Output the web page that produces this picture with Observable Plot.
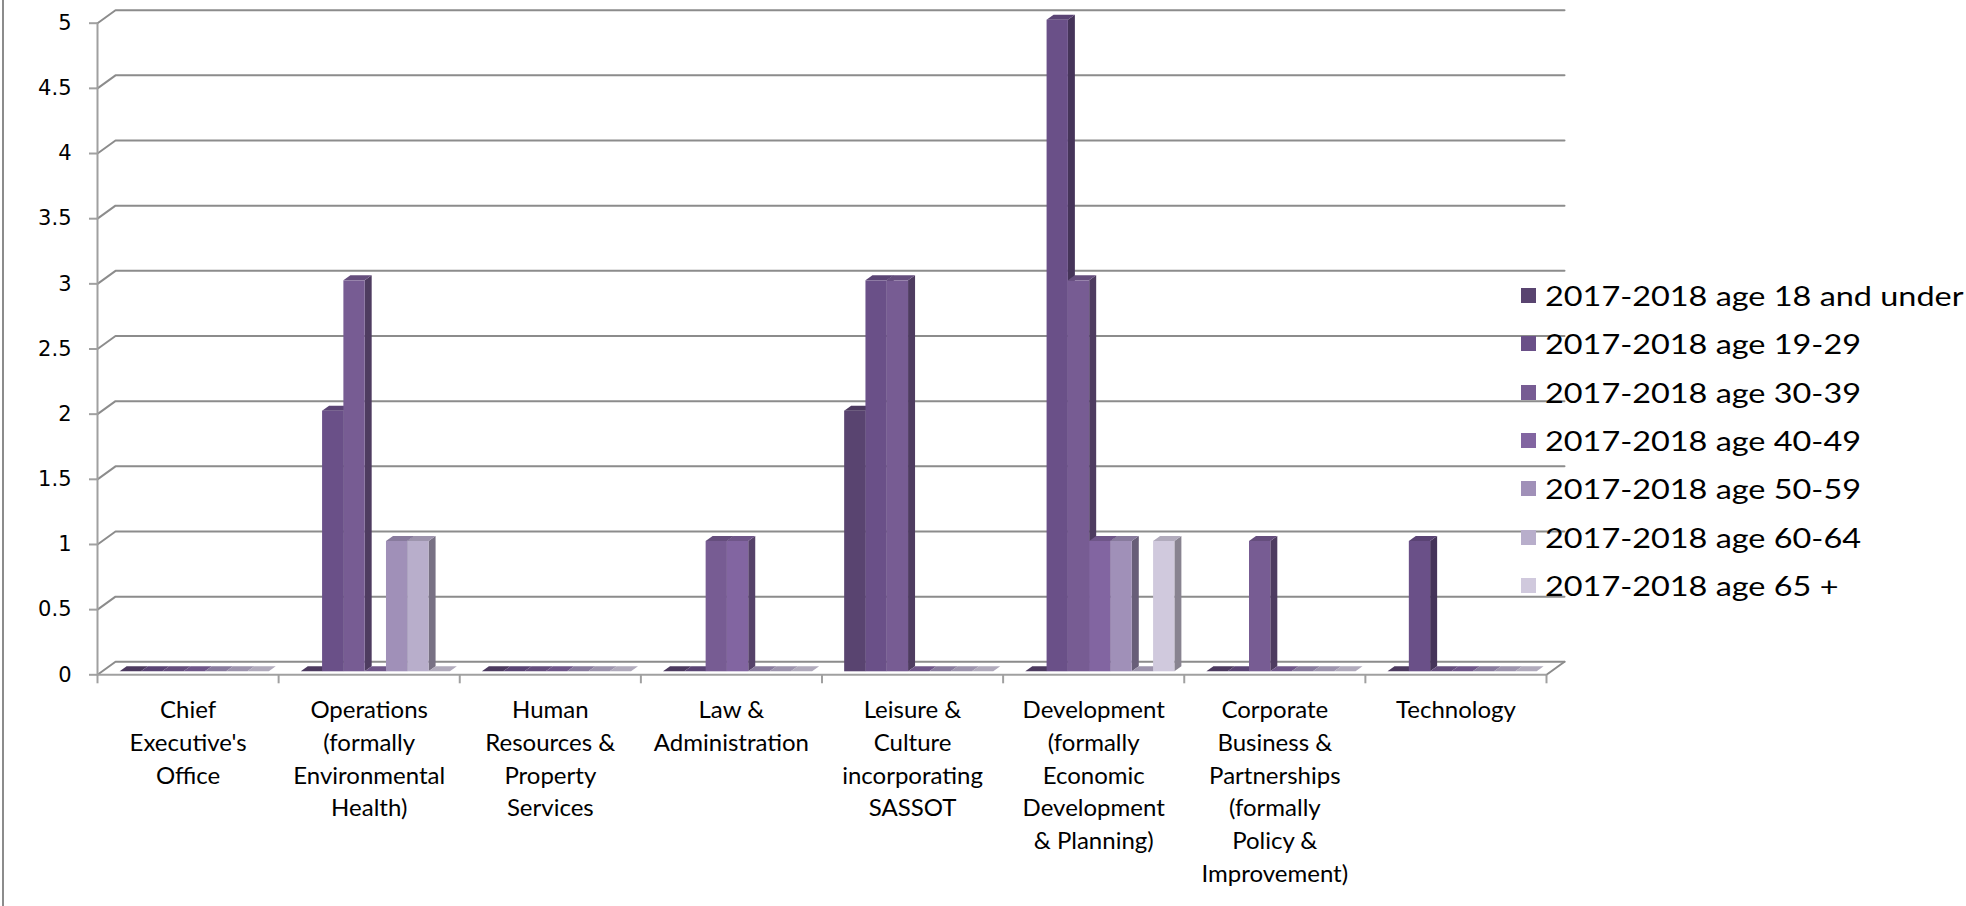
<!DOCTYPE html>
<html>
<head>
<meta charset="utf-8">
<script src="https://cdn.jsdelivr.net/npm/d3@7"></script>
<script src="https://cdn.jsdelivr.net/npm/@observablehq/plot@0.6"></script>
<style>
  html, body { margin: 0; padding: 0; background: #fff; }
  #wrap { position: relative; width: 1966px; height: 906px; overflow: hidden; font-family: Lato, sans-serif; }
  #border { position: absolute; left: 2px; top: 0; width: 2px; height: 906px; background: #8c8c8c; }
  #chart { position: absolute; left: 0; top: 0; }
  #legend { position: absolute; left: 1521px; top: 288px; }
  .row { position: absolute; left: 0; height: 15px; white-space: nowrap; }
  .sw { position: absolute; left: 0; top: 0; width: 15px; height: 15px; }
  .lab { position: absolute; left: 24px; top: 0; font-family: Lato, sans-serif; font-size: 27px; line-height: 15px; color: #000;
         transform: scaleX(1.2); transform-origin: 0 50%; }
</style>
</head>
<body>
<div id="wrap">
  <div id="border"></div>
  <div id="chart"></div>
  <div id="legend"></div>
</div>
<script>
// ---------- data ----------
const categories = [
  "Chief Executive's Office",
  "Operations (formally Environmental Health)",
  "Human Resources & Property Services",
  "Law & Administration",
  "Leisure & Culture incorporating SASSOT",
  "Development (formally Economic Development & Planning)",
  "Corporate Business & Partnerships (formally Policy & Improvement)",
  "Technology"
];
const categoryTickLabels = [
  "Chief\nExecutive's\nOffice",
  "Operations\n(formally\nEnvironmental\nHealth)",
  "Human\nResources &\nProperty\nServices",
  "Law &\nAdministration",
  "Leisure &\nCulture\nincorporating\nSASSOT",
  "Development\n(formally\nEconomic\nDevelopment\n& Planning)",
  "Corporate\nBusiness &\nPartnerships\n(formally\nPolicy &\nImprovement)",
  "Technology"
];
const seriesNames = [
  "2017-2018 age 18 and under",
  "2017-2018 age 19-29",
  "2017-2018 age 30-39",
  "2017-2018 age 40-49",
  "2017-2018 age 50-59",
  "2017-2018 age 60-64",
  "2017-2018 age 65 +"
];
const age18AndUnder = [0, 0, 0, 0, 2, 0, 0, 0];
const age19to29     = [0, 2, 0, 0, 3, 5, 0, 1];
const age30to39     = [0, 3, 0, 1, 3, 3, 1, 0];
const age40to49     = [0, 0, 0, 1, 0, 1, 0, 0];
const age50to59     = [0, 1, 0, 0, 0, 1, 0, 0];
const age60to64     = [0, 1, 0, 0, 0, 0, 0, 0];
const age65plus     = [0, 0, 0, 0, 0, 1, 0, 0];
const yTicks = [0, 0.5, 1, 1.5, 2, 2.5, 3, 3.5, 4, 4.5, 5];
const yTickLabels = ["0", "0.5", "1", "1.5", "2", "2.5", "3", "3.5", "4", "4.5", "5"];
const seriesColors = ["#594470", "#6a5088", "#775c93", "#8265a1", "#a090b8", "#b8aecb", "#d0c9dd"];

const seriesValues = [age18AndUnder, age19to29, age30to39, age40to49, age50to59, age60to64, age65plus];

// ---------- layout ----------
const width = 1966, height = 906;
const marginLeft = 97, marginRight = 420, marginTop = 22.7, marginBottom = 231.7;
const nCat = categories.length;
const pxX = nCat / (width - marginLeft - marginRight);   // data units per px (x)
const pxY = 5 / (height - marginTop - marginBottom);     // data units per px (y)
const wallDX = 18 * pxX, wallDY = 13 * pxY;
const barDX = 7 * pxX, barDY = 5 * pxY;
const barPad = 0.103, barW = 0.1176;

// build bars
const bars = [];
seriesValues.forEach((vals, j) => {
  vals.forEach((v, i) => {
    const x1 = i + barPad + j * barW;
    const c = d3.rgb(seriesColors[j]);
    bars.push({
      id: j * 100 + i, cat: categories[i], series: seriesNames[j], v, x1, x2: x1 + barW,
      front: c.formatHex(), side: c.darker(1.2).formatHex(), top: c.darker(0.45).formatHex()
    });
  });
});
const sidePts = bars.flatMap(b => [
  {id: b.id, x: b.x2, y1: 0, y2: b.v, fill: b.side},
  {id: b.id, x: b.x2 + barDX, y1: barDY, y2: b.v + barDY, fill: b.side}
]);
const topPts = bars.flatMap(b => [
  {id: b.id, y: b.v, x1: b.x1, x2: b.x2, fill: b.top},
  {id: b.id, y: b.v + barDY, x1: b.x1 + barDX, x2: b.x2 + barDX, fill: b.top}
]);
const gridPts = yTicks.flatMap(v => [
  {v, x: 0, y: v},
  {v, x: wallDX, y: v + wallDY},
  {v, x: nCat + wallDX, y: v + wallDY}
]);
const yLabelData = yTicks.map((v, i) => ({v, label: yTickLabels[i]}));

const gridColor = "#8c8c8c";
const barOffset = {dx: 4, dy: -3};

const plot = Plot.plot({
  width, height, marginLeft, marginRight, marginTop, marginBottom,
  style: {fontFamily: "Lato, sans-serif", background: "transparent", overflow: "visible"},
  x: {type: "linear", domain: [0, nCat], axis: null},
  y: {type: "linear", domain: [0, 5], axis: null},
  color: {type: "identity"},
  marks: [
    // back wall gridlines + left wall diagonals
    Plot.line(gridPts, {x: "x", y: "y", z: "v", stroke: gridColor, strokeWidth: 2}),
    // floor right diagonal and front edge
    Plot.line([{x: nCat, y: 0}, {x: nCat + wallDX, y: wallDY}], {x: "x", y: "y", stroke: gridColor, strokeWidth: 2}),
    Plot.ruleY([0], {x1: 0, x2: nCat, stroke: "#a0a0a0", strokeWidth: 2}),
    // front vertical axis line
    Plot.ruleX([0], {y1: 0, y2: 5, stroke: "#a0a0a0", strokeWidth: 2}),
    // y axis ticks
    Plot.axisY({ticks: yTicks, tickFormat: () => "", tickSize: 8, stroke: "#a0a0a0", strokeWidth: 2, label: null}),
    // y tick labels
    Plot.text(yLabelData, {x: 0, y: "v", text: "label", textAnchor: "end", dx: -26,
      fontSize: 21, fontFamily: "DejaVu Sans", fill: "#000"}),
    // x axis ticks
    Plot.axisX({ticks: d3.range(0, nCat + 1), tickFormat: () => "", tickSize: 9, stroke: "#a0a0a0", strokeWidth: 2, label: null}),
    // category labels
    Plot.text(categoryTickLabels, {x: (d, i) => i + 0.5, y: 0, text: d => d, lineAnchor: "top", dy: 20.5,
      lineHeight: 1.36, fontSize: 24, fill: "#000"}),
    // bars: side faces, top faces, front faces
    Plot.areaY(sidePts, {x: "x", y1: "y1", y2: "y2", z: "id", fill: "fill", curve: "linear", ...barOffset}),
    Plot.areaX(topPts, {y: "y", x1: "x1", x2: "x2", z: "id", fill: "fill", curve: "linear", ...barOffset}),
    Plot.rect(bars.filter(b => b.v > 0), {x1: "x1", x2: "x2", y1: 0, y2: "v", fill: "front", ...barOffset})
  ]
});
document.getElementById("chart").appendChild(plot);

// legend
const legend = document.getElementById("legend");
seriesNames.forEach((name, j) => {
  const row = document.createElement("div");
  row.className = "row";
  row.style.top = (j * 48.3) + "px";
  row.innerHTML = `<div class="sw" style="background:${seriesColors[j]}"></div><div class="lab"></div>`;
  row.querySelector(".lab").textContent = name;
  legend.appendChild(row);
});
</script>
</body>
</html>
